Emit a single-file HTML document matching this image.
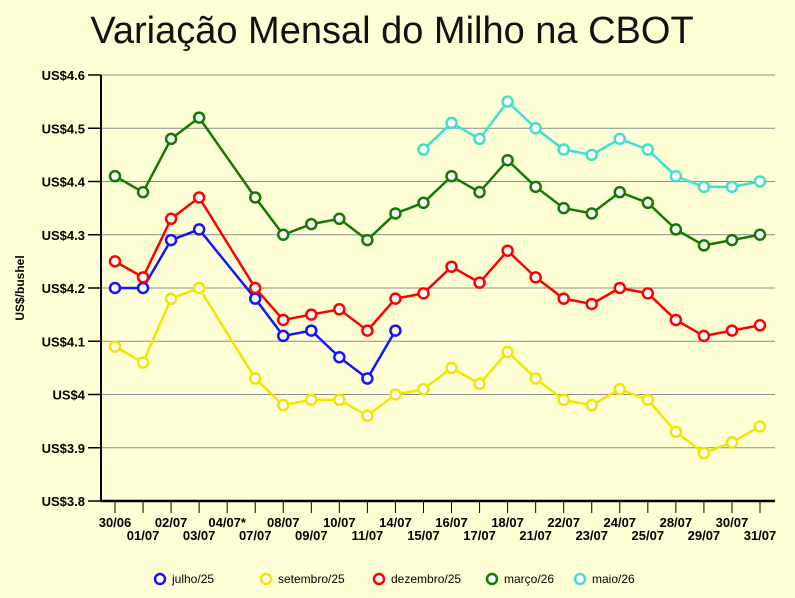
<!DOCTYPE html>
<html><head><meta charset="utf-8"><style>
body{margin:0;background:#ffffd6;}
svg{display:block;font-family:"Liberation Sans",sans-serif;}
</style></head><body>
<svg id="c" width="795" height="598">
<rect width="795" height="598" fill="#ffffd6"/>
<text x="392" y="43" text-anchor="middle" font-size="38" fill="#111">Variação Mensal do Milho na CBOT</text>
<text transform="translate(24,288) rotate(-90)" text-anchor="middle" font-size="12" font-weight="bold">US$/bushel</text>
<g id="grid"></g><g id="series"></g><g id="legend"></g>
</svg>
<script>
const categories=["30/06","01/07","02/07","03/07","04/07*","07/07","08/07","09/07","10/07","11/07","14/07","15/07","16/07","17/07","18/07","21/07","22/07","23/07","24/07","25/07","28/07","29/07","30/07","31/07"];
const yTicks=[3.8,3.9,4.0,4.1,4.2,4.3,4.4,4.5,4.6];
const yTickLabels=["US$3.8","US$3.9","US$4","US$4.1","US$4.2","US$4.3","US$4.4","US$4.5","US$4.6"];
const seriesNames=["julho/25","setembro/25","dezembro/25","março/26","maio/26"];
const seriesColors=["#1414ff","#f2e600","#ff0000","#127a00","#40e0d0"];
const julho=[4.20,4.20,4.29,4.31,null,4.18,4.11,4.12,4.07,4.03,4.12,null,null,null,null,null,null,null,null,null,null,null,null,null];
const setembro=[4.09,4.06,4.18,4.20,null,4.03,3.98,3.99,3.99,3.96,4.00,4.01,4.05,4.02,4.08,4.03,3.99,3.98,4.01,3.99,3.93,3.89,3.91,3.94];
const dezembro=[4.25,4.22,4.33,4.37,null,4.20,4.14,4.15,4.16,4.12,4.18,4.19,4.24,4.21,4.27,4.22,4.18,4.17,4.20,4.19,4.14,4.11,4.12,4.13];
const marco=[4.41,4.38,4.48,4.52,null,4.37,4.30,4.32,4.33,4.29,4.34,4.36,4.41,4.38,4.44,4.39,4.35,4.34,4.38,4.36,4.31,4.28,4.29,4.30];
const maio=[null,null,null,null,null,null,null,null,null,null,null,4.46,4.51,4.48,4.55,4.50,4.46,4.45,4.48,4.46,4.41,4.39,4.39,4.40];
const allSeries=[julho,setembro,dezembro,marco,maio];
const NS="http://www.w3.org/2000/svg";
const X0=101,X1=775,Y0=501,Y1=75,xFirst=115,step=(760-115)/(categories.length-1);
const yMin=3.8,yMax=4.6;
function xs(i){return xFirst+i*step;}
function ys(v){return Y0-(v-yMin)/(yMax-yMin)*(Y0-Y1);}
function mk(tag,attrs,parent){const e=document.createElementNS(NS,tag);for(const k in attrs)e.setAttribute(k,attrs[k]);parent.appendChild(e);return e;}
const grid=document.getElementById('grid');
yTicks.forEach((v,i)=>{
  const y=ys(v);
  if(i>0){const l=mk('line',{x1:X0,x2:X1,y1:y,y2:y,stroke:'#8c8c8c','stroke-width':1},grid);
  
  }
  mk('line',{x1:88,x2:X0,y1:y,y2:y,stroke:'#000','stroke-width':1.5},grid);
  const t=mk('text',{x:85,y:y+5,'text-anchor':'end','font-size':13,'font-weight':'bold'},grid);
  t.textContent=yTickLabels[i];
  
  
});
mk('line',{x1:X0,x2:X0,y1:Y1,y2:Y0+1,stroke:'#000','stroke-width':2},grid);
mk('line',{x1:X0,x2:X1,y1:Y0,y2:Y0,stroke:'#000','stroke-width':2.5},grid);
categories.forEach((c,i)=>{
  const x=xs(i);
  mk('line',{x1:x,x2:x,y1:Y0,y2:Y0+12,stroke:'#000','stroke-width':1},grid);
  const t=mk('text',{x:x,y:i%2?540:527,'text-anchor':'middle','font-size':13,'font-weight':'bold'},grid);
  t.textContent=c;
  
  
});
const sg=document.getElementById('series');
allSeries.forEach((data,si)=>{
  const col=seriesColors[si];
  const pts=[];data.forEach((v,i)=>{if(v!==null)pts.push([xs(i),ys(v)]);});
  const p=mk('polyline',{points:pts.map(p=>p.join(',')).join(' '),fill:'none',stroke:col,'stroke-width':2.5},sg);
  
  
  pts.forEach(pt=>{
    const c=mk('circle',{cx:pt[0],cy:pt[1],r:5,fill:'#fff',stroke:col,'stroke-width':2.5},sg);
    
    
  });
});
const lg=document.getElementById('legend');
const lx=[160,266,379,492,580];
seriesNames.forEach((n,i)=>{
  const g=mk('g',{},lg);
  
  
  mk('circle',{cx:lx[i],cy:579,r:5,fill:'#fff',stroke:seriesColors[i],'stroke-width':2.5},g);
  const t=mk('text',{x:lx[i]+12,y:583,'font-size':12},g);
  t.textContent=n;
});
</script>
</body></html>
